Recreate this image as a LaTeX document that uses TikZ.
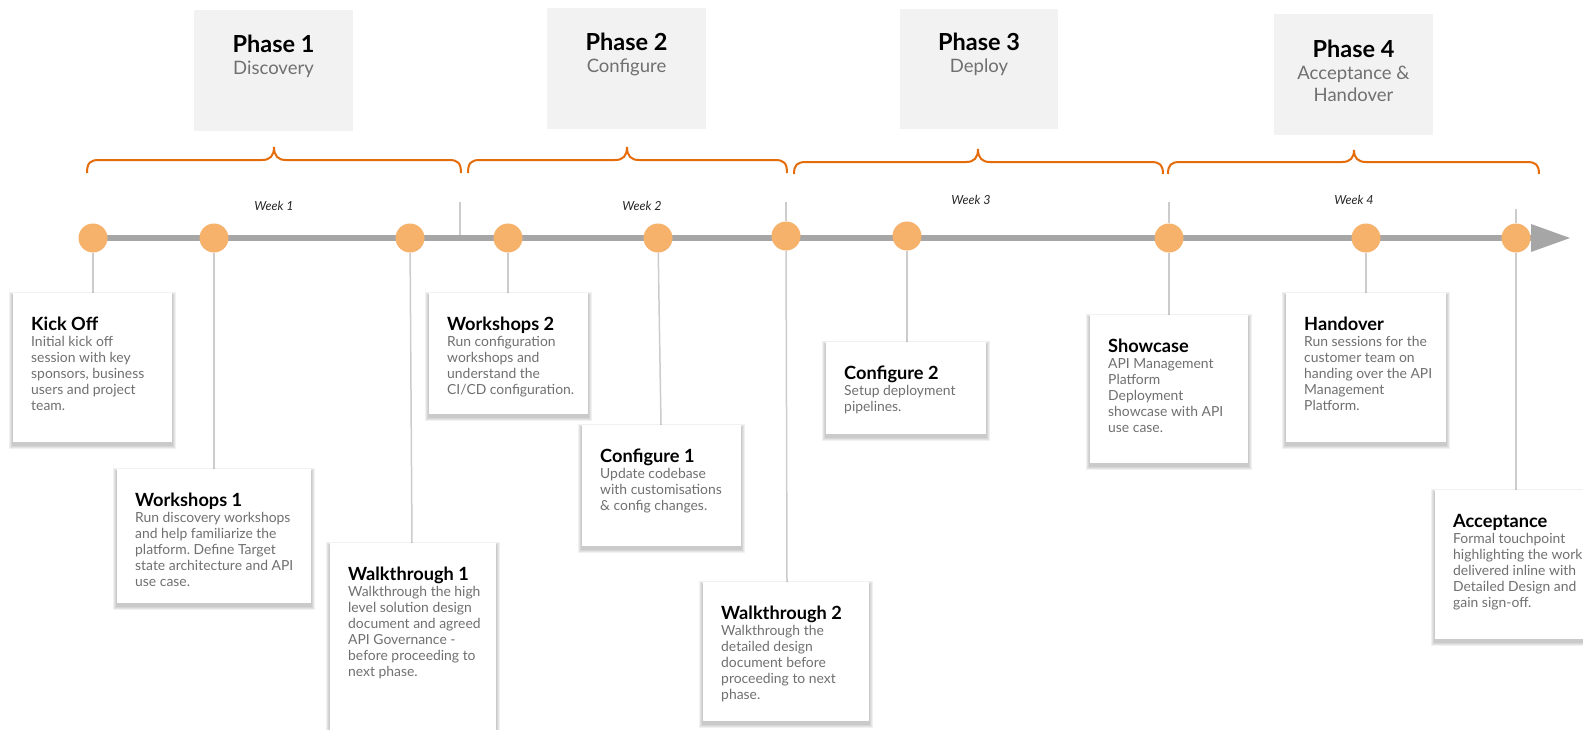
\documentclass[tikz,border=0pt]{standalone}
\usepackage{fontspec}
\setmainfont{Lato}
\frenchspacing
\definecolor{brorange}{HTML}{E46C0A}
\definecolor{dotorange}{HTML}{F6B26B}
\definecolor{tlgray}{HTML}{A6A6A6}
\definecolor{conngray}{HTML}{CCCCCC}
\definecolor{phasefill}{HTML}{F2F2F2}
\definecolor{bodygray}{HTML}{707070}
\pgfdeclarelayer{bg}
\pgfsetlayers{bg,main}
\tikzset{
  card/.style={fill=white, draw=none, inner sep=0pt, anchor=north west},
  cardshadow/.style={fill=black, opacity=0.055},
  cardtitle/.style={anchor=base west, inner sep=0pt, font=\fontsize{18.2}{20}\selectfont\bfseries, text=black},
  cardbody/.style={anchor=north west, inner sep=0pt, align=left, font=\fontsize{13.9}{16}\selectfont, text=bodygray},
  phasebox/.style={fill=phasefill, draw=none, inner sep=0pt, anchor=north west},
  phasetitle/.style={anchor=base, inner sep=0pt, font=\fontsize{23.5}{24}\selectfont\bfseries, text=black},
  phasesub/.style={anchor=base, inner sep=0pt, font=\fontsize{18.5}{22}\selectfont, text=bodygray},
  weeklbl/.style={anchor=base, inner sep=0pt, font=\fontsize{12.5}{14}\selectfont\itshape, text=black!85},
  dot/.style={circle, fill=dotorange, draw=none, minimum size=29pt, inner sep=0pt},
  conn/.style={draw=conngray, line width=1.5pt},
  timeline/.style={draw=tlgray, line width=6pt},
  bracepath/.style={draw=brorange, line width=2pt},
}
\newcommand\mycard[7]{%
  \foreach \i in {1,...,4}{\fill[cardshadow] ({#2-\i},{#3+3-\i}) rectangle ({#2+#4+\i},{#3+#5+3+\i});}
  \node[card, minimum width=#4pt, minimum height=#5pt] (#1) at (#2,#3) {};
  \node[cardtitle] (#1-t) at (#2+18,#3+37) {#6};
  \node[cardbody] (#1-b) at (#2+18,#3+41) {\rule{0pt}{12pt}#7};
}
\newcommand\mybrace[6]{% x1 tip x2 yh ytip yend
  \draw[bracepath] (#1,#6) .. controls (#1,#4+3) and (#1+3,#4) .. (#1+12,#4)
    -- (#2-12,#4) .. controls (#2-4,#4) and (#2,#4-4) .. (#2,#5)
    .. controls (#2,#4-4) and (#2+4,#4) .. (#2+12,#4)
    -- (#3-12,#4) .. controls (#3-3,#4) and (#3,#4+3) .. (#3,#6);
}
\begin{document}
\begin{tikzpicture}[x=1pt,y=-1pt]
\useasboundingbox (0,0) rectangle (1583,729);
\clip (0,0) rectangle (1583,729);
\begin{pgfonlayer}{bg}
\fill[white] (0,0) rectangle (1583,729);
\end{pgfonlayer}

% phase boxes
\node[phasebox, minimum width=159pt, minimum height=121pt] (p1) at (194,10) {};
\node[phasebox, minimum width=159pt, minimum height=121pt] (p2) at (547,8) {};
\node[phasebox, minimum width=158pt, minimum height=120pt] (p3) at (900,9) {};
\node[phasebox, minimum width=159pt, minimum height=121pt] (p4) at (1274,14) {};
\node[phasetitle] (p1t) at (273.5,52) {Phase 1};
\node[phasesub] (p1s) at (273.5,74) {Discovery};
\node[phasetitle] (p2t) at (626.5,50) {Phase 2};
\node[phasesub] (p2s) at (626.5,72) {Configure};
\node[phasetitle] (p3t) at (979,50) {Phase 3};
\node[phasesub] (p3s) at (979,72) {Deploy};
\node[phasetitle] (p4t) at (1353.5,57) {Phase 4};
\node[phasesub] (p4s) at (1353.5,79) {Acceptance \&};
\node[phasesub] (p4s2) at (1353.5,101) {Handover};

% braces
\mybrace{87}{274}{461}{160}{147}{173}
\mybrace{468}{627}{787}{160}{147}{173}
\mybrace{794}{978}{1163}{162}{149}{174}
\mybrace{1168}{1354}{1539}{162}{150}{174}

% week labels
\node[weeklbl] (w1) at (274,210) {Week 1};
\node[weeklbl] (w2) at (642,210) {Week 2};
\node[weeklbl] (w3) at (971,204) {Week 3};
\node[weeklbl] (w4) at (1354,204) {Week 4};

% tick coordinates
\coordinate (t1a) at (460,202); \coordinate (t1b) at (460,238);
\coordinate (t2a) at (786,202);
\coordinate (t3a) at (1169,202);
\coordinate (t4a) at (1516,209);
\coordinate (tlstart) at (93,238);
\coordinate (tlend) at (1531,238);
\coordinate (tltip) at (1570,238);

% circles
\node[dot] (c1) at (93,238) {};
\node[dot] (c2) at (214,238) {};
\node[dot] (c3) at (410,238) {};
\node[dot] (c4) at (508,238) {};
\node[dot] (c5) at (658,238) {};
\node[dot] (c6) at (786,236) {};
\node[dot] (c7) at (907,236) {};
\node[dot] (c8) at (1169,238) {};
\node[dot] (c9) at (1366,238) {};
\node[dot] (c10) at (1516,238) {};

% cards
\mycard{kick}{13}{293}{159}{149}{Kick Off}{Initial kick off\\session with key\\sponsors, business\\users and project\\team.}
\mycard{ws1}{117}{469}{194}{134}{Workshops 1}{Run discovery workshops\\and help familiarize the\\platform. Define Target\\state architecture and API\\use case.}
\mycard{wt1}{330}{543}{166}{200}{Walkthrough 1}{Walkthrough the high\\level solution design\\document and agreed\\API Governance -\\before proceeding to\\next phase.}
\mycard{ws2}{429}{293}{159}{121}{Workshops 2}{Run configuration\\workshops and\\understand the\\CI/CD configuration.}
\mycard{cf1}{582}{425}{159}{121}{Configure 1}{Update codebase\\with customisations\\\& config changes.}
\mycard{wt2}{703}{582}{166}{139}{Walkthrough 2}{Walkthrough the\\detailed design\\document before\\proceeding to next\\phase.}
\mycard{cf2}{826}{342}{160}{92}{Configure 2}{Setup deployment\\pipelines.}
\mycard{show}{1090}{315}{158}{148}{Showcase}{API Management\\Platform\\Deployment\\showcase with API\\use case.}
\mycard{hand}{1286}{293}{160}{149}{Handover}{Run sessions for the\\customer team on\\handing over the API\\Management\\Platform.}
\mycard{acc}{1435}{490}{160}{149}{Acceptance}{Formal touchpoint\\highlighting the work\\delivered inline with\\Detailed Design and\\gain sign-off.}

% connectors, ticks and timeline behind
\begin{pgfonlayer}{bg}
\draw[conn] (t1a) -- (t1b);
\draw[conn] (t2a) -- (c6);
\draw[conn] (t3a) -- (c8);
\draw[conn] (t4a) -- (c10);
\draw[conn] (c1) -- (c1 |- kick.north);
\draw[conn] (c2) -- (c2 |- ws1.north);
\draw[conn] (c3) -- ([xshift=2pt]c3 |- wt1.north);
\draw[conn] (c4) -- (c4 |- ws2.north);
\draw[conn] (c5) -- ([xshift=3pt]c5 |- cf1.north);
\draw[conn] (c6) -- ([xshift=1pt]c6 |- wt2.north);
\draw[conn] (c7) -- (c7 |- cf2.north);
\draw[conn] (c8) -- (c8 |- show.north);
\draw[conn] (c9) -- (c9 |- hand.north);
\draw[conn] (c10) -- (c10 |- acc.north);
\draw[timeline] (tlstart) -- (tlend);
\fill[tlgray] (tltip) -- (1531,224) -- (1531,252) -- cycle;
\end{pgfonlayer}
\end{tikzpicture}
\end{document}
